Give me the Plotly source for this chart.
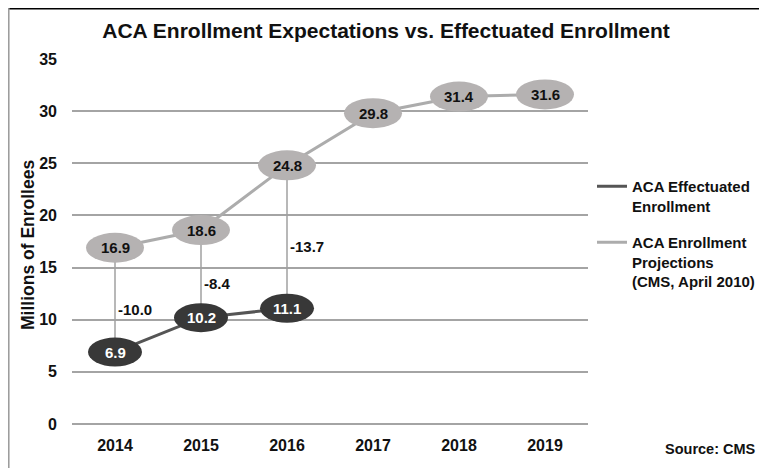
import plotly.graph_objects as go

years = [2014, 2015, 2016, 2017, 2018, 2019]
projections = [16.9, 18.6, 24.8, 29.8, 31.4, 31.6]
eff_years = [2014, 2015, 2016]
effectuated = [6.9, 10.2, 11.1]
y_ticks = [0, 5, 10, 15, 20, 25, 30, 35]

FONT = "Liberation Sans, Arial, sans-serif"
DARK_FILL = "#383838"
DARK_LINE = "#555555"
LIGHT_FILL = "#b5b2b2"
LIGHT_LINE = "#acacac"
GRID = "#a4a4a4"

# page body has an 8px margin; figure coordinates = reference pixel - 8
OFF = 8
W, H = 767 - OFF, 468 - OFF
PL, PR, PT, PB = 72 - OFF, 588 - OFF, 59 - OFF, 424 - OFF  # plot area in figure px
ML, MR, MT, MB = PL, W - PR, PT, H - PB
pw, ph = PR - PL, PB - PT


def px(xr):  # reference x pixel -> paper
    return (xr - OFF - PL) / pw


def py(yr):  # reference y pixel -> paper
    return (PB - (yr - OFF)) / ph


fig = go.Figure()

# vertical gap connectors
for yr, e in zip(eff_years, effectuated):
    p = projections[years.index(yr)]
    fig.add_trace(go.Scatter(x=[yr, yr], y=[p, e], mode="lines",
                             line=dict(color="#a0a0a0", width=1.5),
                             showlegend=False, hoverinfo="skip"))

fig.add_trace(go.Scatter(x=eff_years, y=effectuated, mode="lines",
                         name="<b>ACA Effectuated<br>Enrollment</b>",
                         line=dict(color=DARK_LINE, width=3),
                         legendgroup="a"))
fig.add_trace(go.Scatter(x=years, y=projections, mode="lines",
                         name="<b>ACA Enrollment<br>Projections<br>(CMS, April 2010)</b>",
                         line=dict(color=LIGHT_LINE, width=3),
                         legendgroup="b"))

shapes = []
annotations = []


def ellipse(x, y, fill, hw, hh):
    shapes.append(dict(type="circle", xref="x", yref="y",
                       xsizemode="pixel", ysizemode="pixel",
                       xanchor=x, yanchor=y, x0=-hw, x1=hw, y0=-hh, y1=hh,
                       fillcolor=fill, line=dict(width=0), layer="above"))


for x, v in zip(years, projections):
    ellipse(x, v, LIGHT_FILL, 29, 15)
    annotations.append(dict(x=x, y=v, xref="x", yref="y", text=f"<b>{v:.1f}</b>",
                            showarrow=False, font=dict(family=FONT, size=15, color="#111111")))
for x, v in zip(eff_years, effectuated):
    ellipse(x, v, DARK_FILL, 27, 14.5)
    annotations.append(dict(x=x, y=v, xref="x", yref="y", text=f"<b>{v:.1f}</b>",
                            showarrow=False, font=dict(family=FONT, size=15, color="#ffffff")))

# difference labels
for yr, e in zip(eff_years, effectuated):
    p = projections[years.index(yr)]
    annotations.append(dict(x=yr, y=(p + e) / 2 - 0.9, xref="x", yref="y",
                            text=f"<b>{e - p:.1f}</b>", showarrow=False,
                            xanchor="left", xshift=1,
                            font=dict(family=FONT, size=15, color="#111111")))

# axis title
annotations.append(dict(x=px(28), y=py(245), xref="paper", yref="paper",
                        xanchor="center", yanchor="middle",
                        text="<b>Millions of Enrollees</b>",
                        textangle=-90, showarrow=False,
                        font=dict(family=FONT, size=17.5, color="#111111")))
# source
annotations.append(dict(x=px(758), y=py(449), xref="paper", yref="paper",
                        text="<b>Source: CMS</b>", xanchor="right", yanchor="middle",
                        showarrow=False,
                        font=dict(family=FONT, size=14.5, color="#111111")))

# frame (top dark rule, thin left rule)
shapes.append(dict(type="line", xref="paper", yref="paper",
                   x0=px(4), x1=px(800), y0=py(8), y1=py(8),
                   line=dict(color="#000000", width=3), layer="above"))
shapes.append(dict(type="line", xref="paper", yref="paper",
                   x0=px(8.8), x1=px(8.8), y0=py(8), y1=py(500),
                   line=dict(color="#999999", width=1.5), layer="above"))

fig.update_layout(
    width=W, height=H,
    margin=dict(l=ML, r=MR, t=MT, b=MB, autoexpand=False),
    paper_bgcolor="white", plot_bgcolor="white",
    font=dict(family=FONT, color="#111111"),
    title=dict(text="<b>ACA Enrollment Expectations vs. Effectuated Enrollment</b>",
               x=(386 - OFF) / W, xanchor="center", y=1 - (31 - OFF) / H, yanchor="middle",
               font=dict(family=FONT, size=21, color="#111111")),
    xaxis=dict(range=[2013.5, 2019.5], tickvals=years,
               ticktext=[f"<b>{y}</b>" for y in years],
               showgrid=False, zeroline=False, showline=False,
               ticklabelstandoff=10, tickfont=dict(size=16, color="#111111")),
    yaxis=dict(range=[0, 35], tickvals=y_ticks,
               ticktext=[f"<b>{t}</b>" for t in y_ticks],
               showgrid=True, gridcolor=GRID, gridwidth=2,
               zeroline=True, zerolinecolor=GRID, zerolinewidth=2,
               showline=False, ticklabelstandoff=14,
               tickfont=dict(size=16, color="#111111")),
    legend=dict(x=px(592), xanchor="left", y=py(170), yanchor="top",
                valign="top", tracegroupgap=14, itemwidth=30,
                font=dict(family=FONT, size=15, color="#111111"),
                bgcolor="rgba(0,0,0,0)"),
    shapes=shapes,
    annotations=annotations,
)

fig.write_html("out.html")
